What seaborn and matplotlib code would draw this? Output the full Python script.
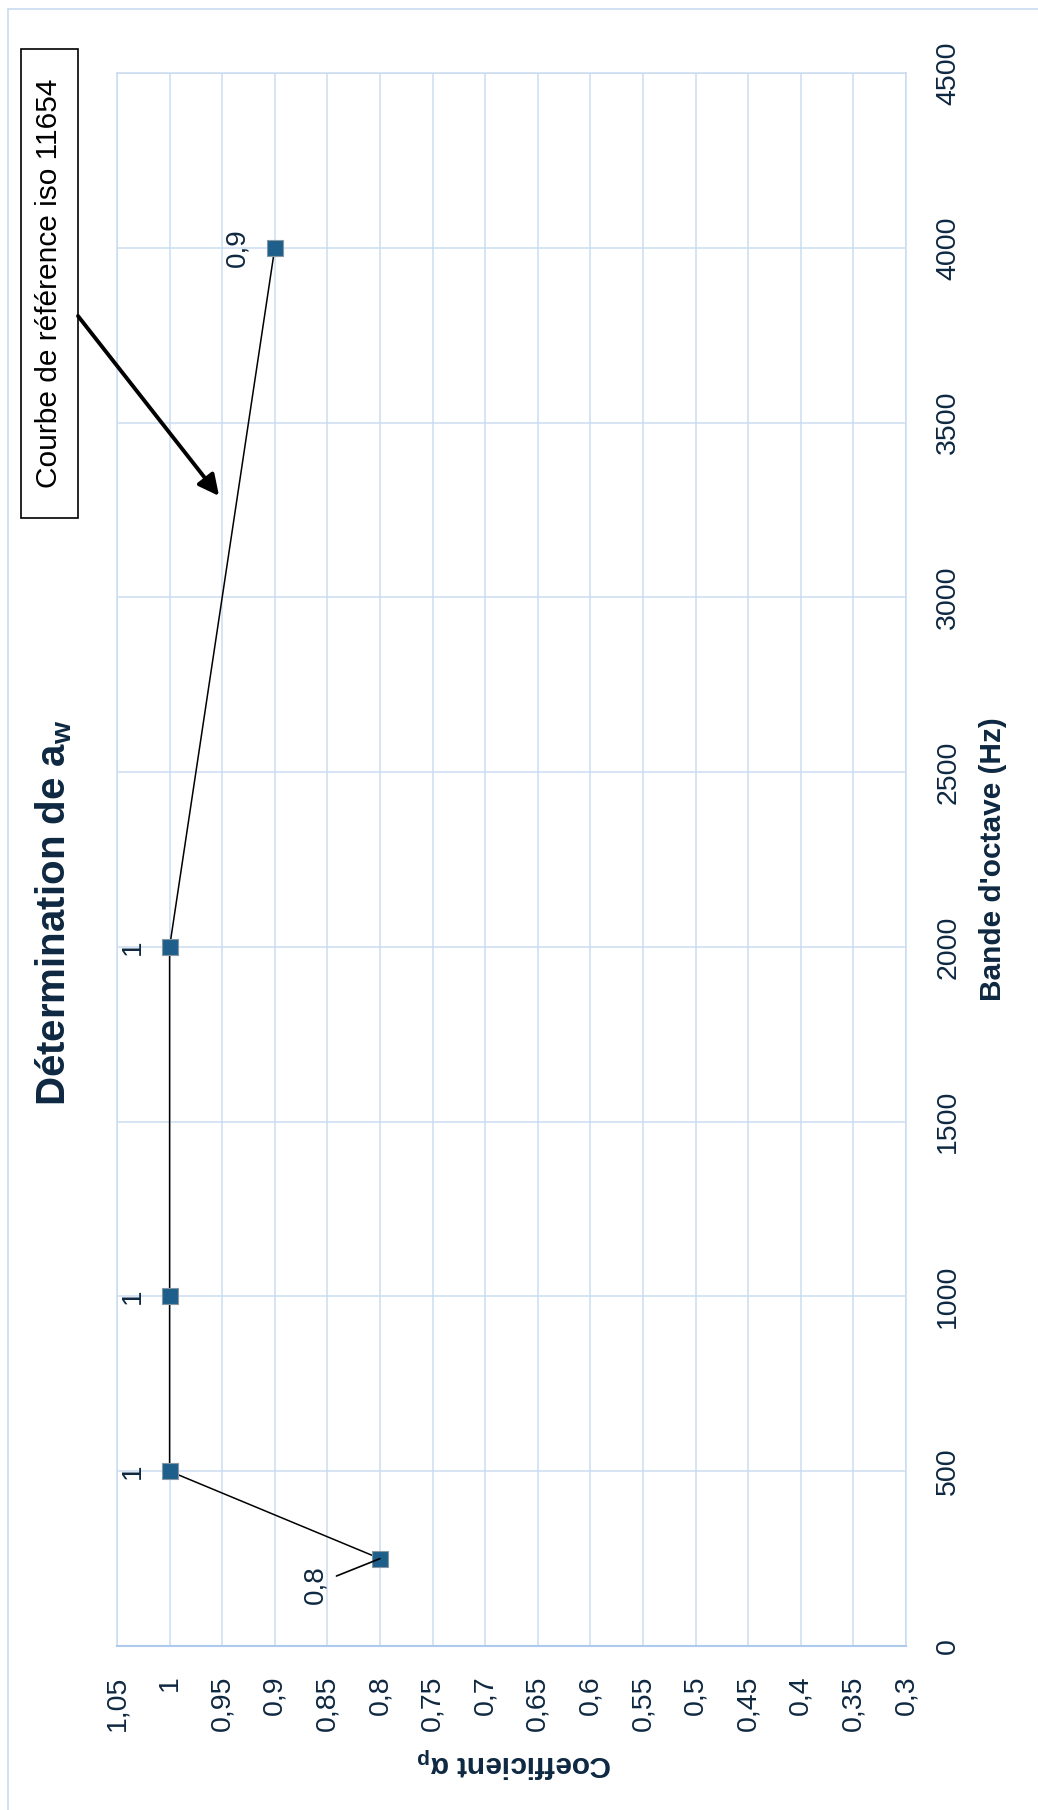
import matplotlib
matplotlib.use('Agg')
import matplotlib.pyplot as plt
import seaborn as sns
import pandas as pd
from matplotlib.lines import Line2D
from matplotlib.patches import Rectangle

# octave bands (Hz) and practical absorption coefficient
freq = [250, 500, 1000, 2000, 4000]
coeff = [0.8, 1, 1, 1, 0.9]
point_labels = ['0,8', '1', '1', '1', '0,9']

coeff_ticks = [1.05, 1, 0.95, 0.9, 0.85, 0.8, 0.75, 0.7, 0.65, 0.6, 0.55, 0.5, 0.45, 0.4, 0.35, 0.3]
coeff_tick_labels = ['1,05', '1', '0,95', '0,9', '0,85', '0,8', '0,75', '0,7', '0,65', '0,6',
                     '0,55', '0,5', '0,45', '0,4', '0,35', '0,3']
freq_ticks = [0, 500, 1000, 1500, 2000, 2500, 3000, 3500, 4000, 4500]

NAVY = '#0e2841'
GRID = '#cadcf0'

sns.set_theme(style='white')
plt.rcParams['font.family'] = ['Liberation Sans', 'DejaVu Sans']
plt.rcParams['mathtext.fontset'] = 'custom'
plt.rcParams['mathtext.rm'] = 'Liberation Sans'
plt.rcParams['mathtext.it'] = 'Liberation Sans:italic'
plt.rcParams['mathtext.bf'] = 'Liberation Sans:bold'

W, H = 1038, 1810
fig = plt.figure(figsize=(W / 100, H / 100), dpi=100)
ax = fig.add_axes([117 / W, 1 - 1646 / H, 789 / W, 1573 / H])

df = pd.DataFrame({'coeff': coeff, 'freq': freq})
sns.lineplot(data=df, x='coeff', y='freq', orient='y', estimator=None, ax=ax,
             color='black', lw=1.1, marker='s', markersize=11.5,
             markerfacecolor='#1d5f8a', markeredgecolor='#8796a3', markeredgewidth=0.8)

ax.set_xlim(1.05, 0.3)
ax.set_ylim(0, 4500)
ax.yaxis.tick_right()
ax.set_xticks(coeff_ticks)
ax.set_xticklabels(coeff_tick_labels, rotation=90, color=NAVY, fontsize=20.5)
ax.set_yticks(freq_ticks)
ax.set_yticklabels([str(f) for f in freq_ticks], rotation=90, va='center', color=NAVY, fontsize=20.5)
ax.tick_params(axis='x', length=0, pad=21)
ax.tick_params(axis='y', length=0, pad=21)
ax.grid(True, color=GRID, lw=1.1)
for s in ax.spines.values():
    s.set_color(GRID)
    s.set_linewidth(1.1)
ax.spines['bottom'].set_color('#aecbee')
ax.spines['bottom'].set_linewidth(1.5)

ax.set_xlabel(r'Coefficient α$_\mathbf{p}$', rotation=180, fontsize=21.5, weight='bold',
              color=NAVY, va='center', ha='center')
ax.xaxis.set_label_coords(0.504, -0.0737)
ax.yaxis.set_label_position('right')
ax.set_ylabel("Bande d'octave (Hz)", rotation=90, fontsize=21.5, weight='bold',
              color=NAVY, va='center', ha='center')
ax.yaxis.set_label_coords(1.110, 0.5)

# data labels
for c, f, lab in zip(coeff, freq, point_labels):
    if lab == '0,8':
        ax.annotate(lab, (c, f), xytext=(-65, -26), textcoords='offset pixels',
                    rotation=90, ha='center', va='center', fontsize=20, color=NAVY,
                    arrowprops=dict(arrowstyle='-', color='black', lw=1.2, shrinkA=4, shrinkB=0))
    else:
        ax.annotate(lab, (c, f), xytext=(-37, 0), textcoords='offset pixels',
                    rotation=90, ha='center', va='center', fontsize=20, color=NAVY)

# title
fig.text(54 / W, 1 - 913 / H, r'Détermination de a$_\mathbf{w}$', rotation=90,
         ha='center', va='center', fontsize=29, weight='bold', color=NAVY)

# callout box + arrow
fig.add_artist(Rectangle((21 / W, 1 - 518 / H), 57 / W, 469 / H, transform=fig.transFigure,
                         fill=False, edgecolor='black', lw=1.2))
fig.text(49.5 / W, 1 - 283.5 / H, 'Courbe de référence iso 11654', rotation=90,
         ha='center', va='center', fontsize=21.5, color='black')
ax.annotate('', xy=(0.953, 3290), xycoords='data',
            xytext=(78 / W, 1 - 316 / H), textcoords='figure fraction',
            arrowprops=dict(arrowstyle='-|>,head_length=0.5,head_width=0.25', color='black',
                            lw=2.8, mutation_scale=25, shrinkA=0, shrinkB=0),
            annotation_clip=False)

# chart frame (only top and left edges visible)
fig.add_artist(Line2D([8 / W, 1], [1 - 9 / H, 1 - 9 / H], transform=fig.transFigure, color=GRID, lw=1.2))
fig.add_artist(Line2D([8 / W, 8 / W], [0, 1 - 9 / H], transform=fig.transFigure, color=GRID, lw=1.2))

fig.savefig('out.png', dpi=100)
plt.close(fig)
